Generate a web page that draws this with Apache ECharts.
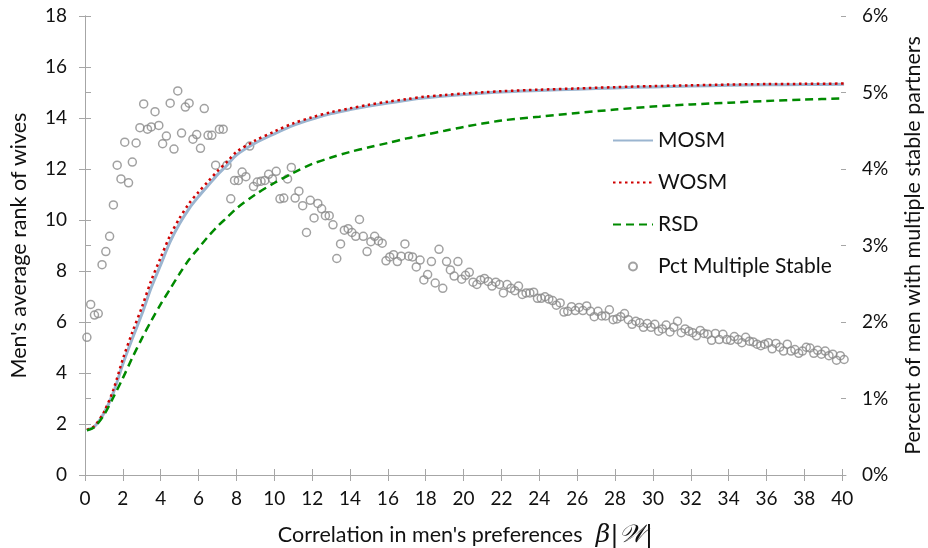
<!DOCTYPE html>
<html>
<head>
<meta charset="utf-8">
<script src="https://cdn.jsdelivr.net/npm/echarts@6/dist/echarts.min.js"></script>
<style>
html,body{margin:0;padding:0;background:#fff;}
#chart{width:928px;height:548px;}
</style>
</head>
<body>
<div id="chart"></div>
<script>
// ---- data ----
const xTickValues = [0,2,4,6,8,10,12,14,16,18,20,22,24,26,28,30,32,34,36,38,40];
const leftTicks = [0,2,4,6,8,10,12,14,16,18];
const rightTicks = [0,1,2,3,4,5,6];

const curveX = [0.1,0.5,1,1.5,2,2.5,3,3.5,4,4.5,5,5.5,6,6.5,7,7.5,8,9,10,11,12,13,14,15,16,17,18,19,20,22,24,26,28,30,32,34,36,38,40.1];
const mosm = [1.76,1.9,2.42,3.23,4.35,5.35,6.3,7.35,8.25,9.15,9.86,10.45,10.92,11.35,11.78,12.15,12.55,13.02,13.38,13.71,13.96,14.17,14.33,14.47,14.59,14.7,14.79,14.86,14.92,15.02,15.08,15.13,15.18,15.22,15.25,15.28,15.3,15.31,15.32];
const wosm = [1.77,1.92,2.47,3.35,4.55,5.6,6.57,7.63,8.53,9.4,10.08,10.65,11.1,11.51,11.92,12.28,12.67,13.12,13.47,13.79,14.03,14.23,14.38,14.52,14.64,14.74,14.84,14.9,14.96,15.05,15.11,15.16,15.21,15.25,15.28,15.31,15.33,15.34,15.35];
const rsd = [1.75,1.88,2.35,3.05,3.8,4.6,5.35,6.05,6.7,7.3,7.9,8.45,8.9,9.35,9.75,10.1,10.45,11.0,11.45,11.85,12.2,12.45,12.67,12.85,13.02,13.2,13.35,13.5,13.65,13.9,14.05,14.2,14.33,14.45,14.53,14.6,14.67,14.72,14.77];

// Pct Multiple Stable (percent), sampled every 0.2 starting at 0.1
const pctStart = 0.1;
const pctStep = 0.2;
const pctMultiple = [
1.80,2.23,2.09,2.11,2.75,2.92,3.12,3.53,4.05,3.87,
4.35,3.82,4.09,4.34,4.54,4.85,4.52,4.55,4.75,4.57,
4.33,4.43,4.86,4.26,5.02,4.47,4.81,4.86,4.39,4.45,
4.27,4.79,4.44,4.44,4.05,4.52,4.52,4.05,3.61,3.85,
3.85,3.96,3.90,4.30,3.77,3.83,3.84,3.85,3.93,3.87,
3.97,3.61,3.62,3.87,4.02,3.62,3.71,3.52,3.17,3.59,
3.36,3.55,3.48,3.39,3.39,3.27,2.83,3.02,3.20,3.22,
3.17,3.12,3.34,3.12,2.92,3.05,3.12,3.06,3.03,2.80,
2.85,2.88,2.79,2.86,3.02,2.86,2.85,2.72,2.81,2.55,
2.62,2.79,2.51,2.95,2.44,2.79,2.68,2.60,2.79,2.56,
2.61,2.65,2.52,2.49,2.55,2.57,2.53,2.47,2.52,2.49,
2.38,2.49,2.44,2.41,2.47,2.36,2.38,2.38,2.39,2.31,
2.31,2.33,2.30,2.28,2.22,2.25,2.13,2.14,2.20,2.15,
2.19,2.15,2.21,2.14,2.07,2.14,2.08,2.08,2.16,2.03,
2.04,2.07,2.11,2.03,1.97,2.01,1.99,1.93,1.98,1.93,
1.97,1.88,1.91,1.96,1.87,1.93,2.01,1.86,1.91,1.88,
1.86,1.82,1.89,1.85,1.84,1.76,1.85,1.77,1.84,1.77,
1.76,1.81,1.77,1.73,1.80,1.75,1.74,1.71,1.69,1.71,
1.73,1.65,1.72,1.67,1.62,1.71,1.62,1.64,1.59,1.62,
1.67,1.66,1.59,1.63,1.58,1.62,1.56,1.58,1.50,1.56,
1.51
];

// ---- build series data ----
const pair = (xs, ys) => xs.map((x, i) => [x, ys[i]]);
const pctData = pctMultiple.map((v, i) => [+(pctStart + i * pctStep).toFixed(2), v]);

const FONT = 'Lato';
const AXIS_COLOR = '#a6a6a6';
const TEXT = '#111';

const chart = echarts.init(document.getElementById('chart'), null, {renderer: 'canvas'});
const xCommon = {type: 'value', min: 0, max: 40.2, gridIndex: 0};
const hideSym = {opacity: 0};
const option = {
  animation: false,
  backgroundColor: '#fff',
  grid: {left: 85, right: 82, top: 16, bottom: 73, containLabel: false, outerBoundsMode: 'none'},
  legend: {
    orient: 'vertical',
    left: 607, top: 125,
    itemWidth: 40, itemHeight: 8, itemGap: 21,
    textStyle: {fontFamily: FONT, fontSize: 21, color: TEXT},
    data: [
      {name: 'MOSM', itemStyle: hideSym},
      {name: 'WOSM', itemStyle: hideSym},
      {name: 'RSD', itemStyle: hideSym},
      {name: 'Pct Multiple Stable'}
    ]
  },
  xAxis: [
    Object.assign({}, xCommon, {
      position: 'bottom',
      axisLine: {show: true, lineStyle: {color: AXIS_COLOR, width: 1}},
      axisTick: {show: true, inside: false, length: 6, lineStyle: {color: AXIS_COLOR}, customValues: xTickValues},
      axisLabel: {show: true, margin: 14, fontFamily: FONT, fontSize: 19, color: TEXT, customValues: xTickValues},
      splitLine: {show: false},
      name: '{a|Correlation in men\'s preferences}    {b|β|𝒲|}',
      nameLocation: 'middle', nameGap: 48,
      nameTextStyle: {
        rich: {
          a: {fontFamily: FONT, fontSize: 21.5, color: TEXT},
          b: {fontFamily: 'DejaVu Serif', fontStyle: 'italic', fontSize: 25, color: TEXT}
        }
      }
    }),
    Object.assign({}, xCommon, {
      position: 'bottom',
      axisLine: {show: false},
      axisTick: {show: true, inside: true, length: 6, lineStyle: {color: AXIS_COLOR}, customValues: xTickValues},
      axisLabel: {show: false},
      splitLine: {show: false}
    })
  ],
  yAxis: [
    {
      type: 'value', position: 'left', min: 0, max: 18, interval: 2,
      axisLine: {show: true, lineStyle: {color: AXIS_COLOR}},
      axisTick: {show: true, inside: false, length: 6, lineStyle: {color: AXIS_COLOR}},
      axisLabel: {margin: 18, fontFamily: FONT, fontSize: 19, color: TEXT},
      splitLine: {show: false},
      name: "Men's average rank of wives",
      nameLocation: 'middle', nameGap: 55,
      nameTextStyle: {fontFamily: FONT, fontSize: 21.5, color: TEXT}
    },
    {
      type: 'value', position: 'right', min: 0, max: 6, interval: 1,
      axisLine: {show: true, lineStyle: {color: AXIS_COLOR}},
      axisTick: {show: true, inside: false, length: 6, lineStyle: {color: AXIS_COLOR}},
      axisLabel: {margin: 16, fontFamily: FONT, fontSize: 19, color: TEXT, formatter: '{value}%'},
      splitLine: {show: false},
      name: 'Percent of men with multiple stable partners',
      nameLocation: 'middle', nameGap: 56, nameRotate: 90,
      nameTextStyle: {fontFamily: FONT, fontSize: 21.5, color: TEXT}
    },
    {
      type: 'value', position: 'left', min: 0, max: 18, interval: 2,
      axisLine: {show: false},
      axisTick: {show: true, inside: true, length: 6, lineStyle: {color: AXIS_COLOR}},
      axisLabel: {show: false}, splitLine: {show: false}
    },
    {
      type: 'value', position: 'right', min: 0, max: 6, interval: 1,
      axisLine: {show: false},
      axisTick: {show: true, inside: true, length: 5, lineStyle: {color: AXIS_COLOR}},
      axisLabel: {show: false}, splitLine: {show: false}
    }
  ],
  series: [
    {
      name: 'Pct Multiple Stable', type: 'scatter', xAxisIndex: 0, yAxisIndex: 1,
      data: pctData, symbol: 'circle', symbolSize: 8,
      itemStyle: {color: 'rgba(255,255,255,0)', borderColor: '#8a8a8a', borderWidth: 1.5},
      z: 2
    },
    {
      name: 'MOSM', type: 'line', xAxisIndex: 0, yAxisIndex: 0,
      data: pair(curveX, mosm), symbol: 'none', smooth: 0.3,
      lineStyle: {color: '#9bb5d0', width: 3},
      itemStyle: {color: '#9bb5d0'}, z: 3
    },
    {
      name: 'WOSM', type: 'line', xAxisIndex: 0, yAxisIndex: 0,
      data: pair(curveX, wosm), symbol: 'none', smooth: 0.3,
      lineStyle: {color: '#d00000', width: 2.5, type: [2.5, 3.5]},
      itemStyle: {color: '#d00000'}, z: 4
    },
    {
      name: 'RSD', type: 'line', xAxisIndex: 0, yAxisIndex: 0,
      data: pair(curveX, rsd), symbol: 'none', smooth: 0.3,
      lineStyle: {color: '#008a00', width: 2.5, type: [8, 5]},
      itemStyle: {color: '#008a00'}, z: 4
    }
  ]
};
chart.setOption(option);
</script>
</body>
</html>
